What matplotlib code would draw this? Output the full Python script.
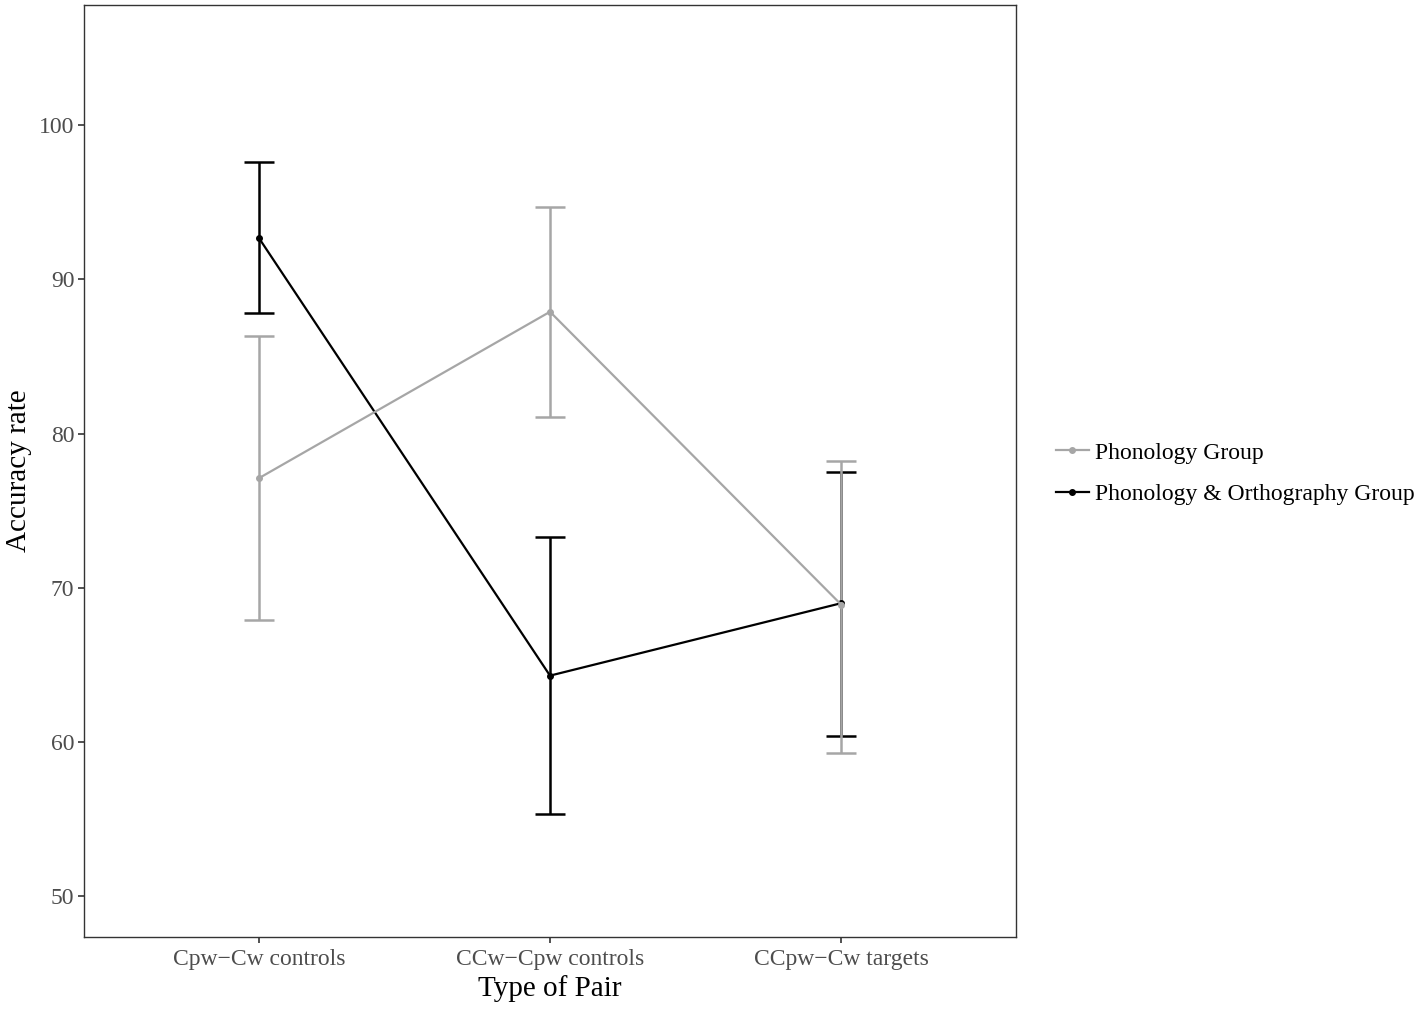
import numpy as np
import matplotlib.pyplot as plt
from matplotlib.lines import Line2D

# --- dane ---
pairs = ['Cpw\u2212Cw controls', 'CCw\u2212Cpw controls', 'CCpw\u2212Cw targets']
groups = ['Phonology Group', 'Phonology & Orthography Group']

phon_mean = [77.1, 87.9, 68.9]
phon_low = [67.9, 81.1, 59.3]
phon_high = [86.3, 94.7, 78.2]

orth_mean = [92.7, 64.3, 69.0]
orth_low = [87.8, 55.3, 60.4]
orth_high = [97.6, 73.3, 77.5]

colors = ['#a6a6a6', '#000000']

plt.rcParams['font.family'] = ['Liberation Serif', 'DejaVu Serif']

fig = plt.figure(figsize=(14.19, 10.10), dpi=100)
ax = fig.add_axes([0.0592, 0.0723, 0.6568, 0.9228])

x = np.arange(len(pairs))
series = [(orth_mean, orth_low, orth_high, colors[1]),
          (phon_mean, phon_low, phon_high, colors[0])]
for mean, low, high, col in series:
    mean = np.array(mean)
    yerr = [mean - np.array(low), np.array(high) - mean]
    ax.errorbar(x, mean, yerr=yerr, color=col, lw=1.6, elinewidth=1.8,
                capsize=11, capthick=1.8, marker='o', ms=4)

ax.set_xlim(-0.6, 2.6)
ax.set_ylim(47.35, 107.8)
ax.set_xticks(x)
ax.set_xticklabels(pairs)
ax.set_yticks([50, 60, 70, 80, 90, 100])
ax.tick_params(labelsize=17, length=4, width=1.2, pad=3)
ax.tick_params(axis='x', pad=5)
ax.tick_params(labelcolor='#4d4d4d', color='#333333')
for s in ax.spines.values():
    s.set_color('#333333')
    s.set_linewidth(1.0)
ax.set_xlabel('Type of Pair', fontsize=21, labelpad=3)
ax.set_ylabel('Accuracy rate', fontsize=21, labelpad=5)

handles = [Line2D([], [], color=colors[0], lw=1.6, marker='o', ms=4),
           Line2D([], [], color=colors[1], lw=1.6, marker='o', ms=4)]
fig.legend(handles, groups, loc='center left', bbox_to_anchor=(0.7373, 0.531),
           frameon=False, fontsize=17, handlelength=1.4, handletextpad=0.25,
           labelspacing=0.85, borderaxespad=0, borderpad=0.4)

fig.savefig('out.png', dpi=100)
